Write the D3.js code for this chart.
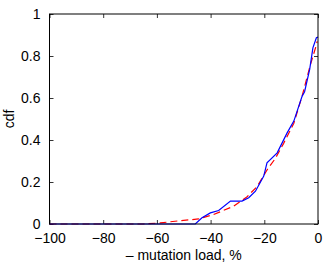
<!DOCTYPE html>
<html>
<head>
<meta charset="utf-8">
<script src="https://cdn.jsdelivr.net/npm/d3@7"></script>
<style>
  body { margin: 0; background: #fff; }
  svg text { font-family: "Liberation Sans", Arial, sans-serif; }
</style>
</head>
<body>
<div id="chart"></div>
<script>
// empirical cdf (blue, solid)
const empX = [-100, -45.7, -43.2, -40.1, -37.0, -32.6, -28.3, -25.8, -23.3, -20.2, -19.0, -15.2, -11.5, -9.0, -5.9, -5.0, -3.1, -1.9, -0.6, 0]
const empY = [0, 0, 0.03, 0.053, 0.064, 0.109, 0.109, 0.125, 0.156, 0.228, 0.291, 0.339, 0.434, 0.49, 0.609, 0.63, 0.736, 0.839, 0.887, 0.89]
// fitted cdf (red, dashed)
const fitX = [-100, -65, -58.8, -51.3, -44.5, -38.9, -31.4, -26.4, -22.7, -19.0, -15.9, -12.8, -9.0, -5.9, -2.8, -0.9, -0.3]
const fitY = [0, 0, 0.005, 0.016, 0.024, 0.045, 0.085, 0.13, 0.178, 0.257, 0.312, 0.384, 0.48, 0.61, 0.76, 0.84, 0.87]
const xTicks = [-100, -80, -60, -40, -20, 0]
const yTicks = [0, 0.2, 0.4, 0.6, 0.8, 1]

const W = 327, H = 266
const margin = {top: 14, right: 9, bottom: 42, left: 49.5}
const width = W - margin.left - margin.right
const height = H - margin.top - margin.bottom

const svg = d3.select("#chart").append("svg")
    .attr("width", W).attr("height", H)
  .append("g")
    .attr("transform", "translate(" + margin.left + "," + margin.top + ")")

const x = d3.scaleLinear().domain([-100, 0]).range([0, width])
const y = d3.scaleLinear().domain([0, 1]).range([height, 0])

const fmt = d => d < 0 ? "\u2212" + Math.abs(d) : String(d)

function styleAxis(g) {
  g.select(".domain").remove()
  g.selectAll("line").attr("stroke", "#000").attr("stroke-width", 0.8)
  g.selectAll("text").attr("font-size", 14).attr("fill", "#000")
}

svg.append("g")
    .attr("transform", "translate(0," + height + ")")
    .call(d3.axisBottom(x).tickValues(xTicks).tickSizeInner(-4).tickSizeOuter(0).tickPadding(9).tickFormat(fmt))
    .call(styleAxis)
svg.append("g")
    .call(d3.axisTop(x).tickValues(xTicks).tickSizeInner(-4).tickSizeOuter(0).tickFormat(""))
    .call(styleAxis)
svg.append("g")
    .call(d3.axisLeft(y).tickValues(yTicks).tickSizeInner(-4).tickSizeOuter(0).tickPadding(9).tickFormat(d => String(d)))
    .call(styleAxis)
svg.append("g")
    .attr("transform", "translate(" + width + ",0)")
    .call(d3.axisRight(y).tickValues(yTicks).tickSizeInner(-4).tickSizeOuter(0).tickFormat(""))
    .call(styleAxis)

const line = d3.line().x(d => x(d[0])).y(d => y(d[1]))

svg.append("path")
    .datum(fitX.map((v, i) => [v, fitY[i]]))
    .attr("fill", "none")
    .attr("stroke", "#ff0000")
    .attr("stroke-width", 1.2)
    .attr("stroke-dasharray", "7,4")
    .attr("d", line)

svg.append("path")
    .datum(empX.map((v, i) => [v, empY[i]]))
    .attr("fill", "none")
    .attr("stroke", "#0000ff")
    .attr("stroke-width", 1.2)
    .attr("d", line)

svg.append("rect")
    .attr("width", width).attr("height", height)
    .attr("fill", "none").attr("stroke", "#000").attr("stroke-width", 1)

svg.append("text")
    .attr("x", width / 2).attr("y", height + 36)
    .attr("text-anchor", "middle")
    .attr("font-size", 14)
    .text("\u2013 mutation load, %")

svg.append("text")
    .attr("transform", "translate(" + (-36) + "," + (height / 2) + ") rotate(-90)")
    .attr("text-anchor", "middle")
    .attr("font-size", 14)
    .text("cdf")
</script>
</body>
</html>
